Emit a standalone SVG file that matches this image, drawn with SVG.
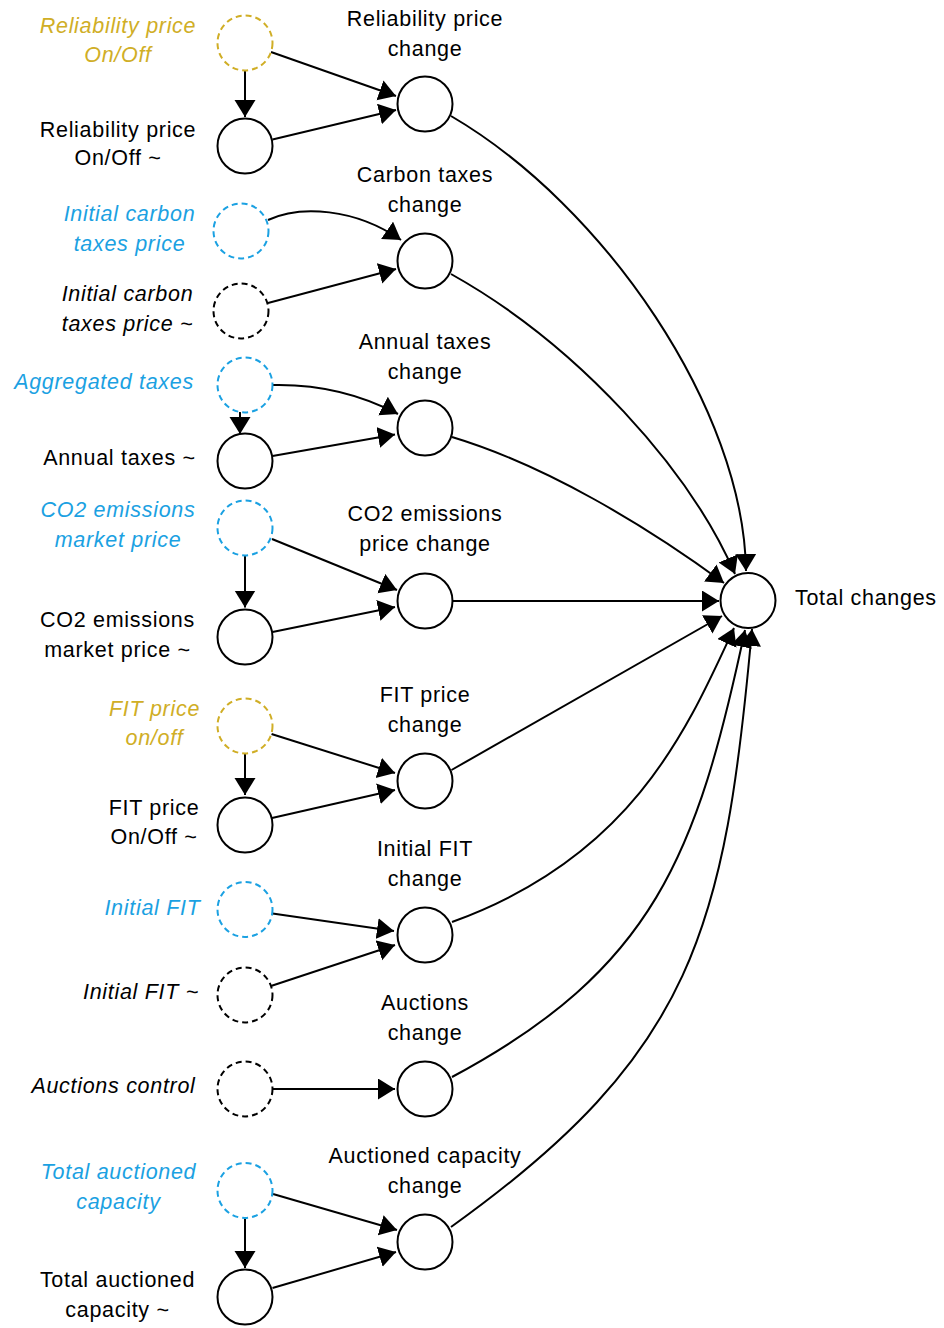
<svg xmlns="http://www.w3.org/2000/svg" width="944" height="1328" viewBox="0 0 944 1328">
  <style>
    .node { fill: #ffffff; stroke: #000000; stroke-width: 2; }
    .dash { stroke-dasharray: 6 4; }
    .gold { stroke: #D0AE26; }
    .blue { stroke: #1BA1E2; }
    text { font-family: "Liberation Sans", Arial, sans-serif; font-size: 21.5px; letter-spacing: 0.7px; fill: #000000; }
    .lbl { text-anchor: middle; }
    .it { font-style: italic; }
    .tgold { fill: #D0AE26; }
    .tblue { fill: #1BA1E2; }
    .edge { fill: none; stroke: #000000; stroke-width: 2; marker-end: url(#arrow); }
  </style>
  <defs>
    <marker id="arrow" markerUnits="userSpaceOnUse" markerWidth="18" markerHeight="22" refX="17" refY="10.5" orient="auto">
      <path d="M0,0 L17,10.5 L0,21 Z" fill="#000000"/>
    </marker>
  </defs>
  <rect width="944" height="1328" fill="#ffffff"/>

  <!-- connectors -->
  <g id="connectors">
    <path class="edge" d="M245,70.5 V117"/>
    <path class="edge" d="M271,52 L396,96"/>
    <path class="edge" d="M272.5,139.5 L396,110"/>
    <path class="edge" d="M451,116 C605,206 744,410 746,571"/>
    <path class="edge" d="M268,220 C300,205 355,208 401,240"/>
    <path class="edge" d="M268,303 L396,269"/>
    <path class="edge" d="M451,274 C578,345 690,470 735,574"/>
    <path class="edge" d="M240,412 V434"/>
    <path class="edge" d="M273,385 C320,384 360,394 398,414"/>
    <path class="edge" d="M272.5,456 L395,434.5"/>
    <path class="edge" d="M452,437 C545,465 645,525 724,583"/>
    <path class="edge" d="M245,555.5 V607.5"/>
    <path class="edge" d="M272,539 L397,590"/>
    <path class="edge" d="M272.5,632 L395,607"/>
    <path class="edge" d="M452.5,601 H719"/>
    <path class="edge" d="M245,753.5 V795"/>
    <path class="edge" d="M271.5,734 L395,773"/>
    <path class="edge" d="M272,818 L395,790"/>
    <path class="edge" d="M451.5,770 L722,616"/>
    <path class="edge" d="M272.5,913.5 L394,931"/>
    <path class="edge" d="M271,986 L395,945"/>
    <path class="edge" d="M452,922 C632,857 687,730 734,628"/>
    <path class="edge" d="M272.5,1089 H395"/>
    <path class="edge" d="M452,1077 C654,969 697,855 745,630"/>
    <path class="edge" d="M245,1218.5 V1268"/>
    <path class="edge" d="M273,1194 L397,1230"/>
    <path class="edge" d="M272.5,1288 L396,1252"/>
    <path class="edge" d="M451,1227 C694,1053 725,930 752,629"/>
  </g>

  <!-- reliability price -->
  <g id="reliability-onoff">
    <circle class="node dash gold" cx="245" cy="43" r="27.5"/>
    <text class="lbl it tgold" x="118" y="33">Reliability price</text>
    <text class="lbl it tgold" x="118" y="62">On/Off</text>
  </g>
  <g id="reliability-onoff-tilde">
    <circle class="node" cx="245" cy="146" r="27.5"/>
    <text class="lbl" x="118" y="137">Reliability price</text>
    <text class="lbl" x="118" y="165">On/Off ~</text>
  </g>
  <g id="reliability-change">
    <circle class="node" cx="425" cy="104" r="27.5"/>
    <text class="lbl" x="425" y="26">Reliability price</text>
    <text class="lbl" x="425" y="56">change</text>
  </g>

  <!-- carbon taxes -->
  <g id="initial-carbon">
    <circle class="node dash blue" cx="241" cy="231" r="27.5"/>
    <text class="lbl it tblue" x="129.5" y="221">Initial carbon</text>
    <text class="lbl it tblue" x="129.5" y="251">taxes price</text>
  </g>
  <g id="initial-carbon-tilde">
    <circle class="node dash" cx="241" cy="311" r="27.5"/>
    <text class="lbl it" x="127.5" y="301">Initial carbon</text>
    <text class="lbl it" x="127.5" y="331">taxes price ~</text>
  </g>
  <g id="carbon-change">
    <circle class="node" cx="425" cy="261" r="27.5"/>
    <text class="lbl" x="425" y="182">Carbon taxes</text>
    <text class="lbl" x="425" y="212">change</text>
  </g>

  <!-- annual taxes -->
  <g id="aggregated-taxes">
    <circle class="node dash blue" cx="245" cy="385" r="27.5"/>
    <text class="lbl it tblue" x="104" y="389">Aggregated taxes</text>
  </g>
  <g id="annual-taxes-tilde">
    <circle class="node" cx="245" cy="461" r="27.5"/>
    <text class="lbl" x="119.5" y="465">Annual taxes ~</text>
  </g>
  <g id="annual-change">
    <circle class="node" cx="425" cy="428" r="27.5"/>
    <text class="lbl" x="425" y="349">Annual taxes</text>
    <text class="lbl" x="425" y="379">change</text>
  </g>

  <!-- CO2 emissions -->
  <g id="co2-market">
    <circle class="node dash blue" cx="245" cy="528" r="27.5"/>
    <text class="lbl it tblue" x="118" y="517">CO2 emissions</text>
    <text class="lbl it tblue" x="118" y="547">market price</text>
  </g>
  <g id="co2-market-tilde">
    <circle class="node" cx="245" cy="637" r="27.5"/>
    <text class="lbl" x="117.5" y="627">CO2 emissions</text>
    <text class="lbl" x="117.5" y="657">market price ~</text>
  </g>
  <g id="co2-change">
    <circle class="node" cx="425" cy="601" r="27.5"/>
    <text class="lbl" x="425" y="521">CO2 emissions</text>
    <text class="lbl" x="425" y="551">price change</text>
  </g>

  <!-- total -->
  <g id="total-changes">
    <circle class="node" cx="748" cy="600.5" r="27.5"/>
    <text x="795" y="605">Total changes</text>
  </g>

  <!-- FIT price -->
  <g id="fit-onoff">
    <circle class="node dash gold" cx="245" cy="726" r="27.5"/>
    <text class="lbl it tgold" x="154.5" y="716">FIT price</text>
    <text class="lbl it tgold" x="154.5" y="745">on/off</text>
  </g>
  <g id="fit-onoff-tilde">
    <circle class="node" cx="245" cy="825" r="27.5"/>
    <text class="lbl" x="154" y="815">FIT price</text>
    <text class="lbl" x="154" y="844">On/Off ~</text>
  </g>
  <g id="fit-change">
    <circle class="node" cx="425" cy="781" r="27.5"/>
    <text class="lbl" x="425" y="702">FIT price</text>
    <text class="lbl" x="425" y="732">change</text>
  </g>

  <!-- initial FIT -->
  <g id="initial-fit">
    <circle class="node dash blue" cx="245" cy="909.5" r="27.5"/>
    <text class="lbl it tblue" x="152.5" y="915">Initial FIT</text>
  </g>
  <g id="initial-fit-tilde">
    <circle class="node dash" cx="245" cy="995" r="27.5"/>
    <text class="lbl it" x="141" y="999">Initial FIT ~</text>
  </g>
  <g id="initial-fit-change">
    <circle class="node" cx="425" cy="935" r="27.5"/>
    <text class="lbl" x="425" y="856">Initial FIT</text>
    <text class="lbl" x="425" y="886">change</text>
  </g>

  <!-- auctions -->
  <g id="auctions-control">
    <circle class="node dash" cx="245" cy="1089" r="27.5"/>
    <text class="lbl it" x="113.5" y="1093">Auctions control</text>
  </g>
  <g id="auctions-change">
    <circle class="node" cx="425" cy="1089" r="27.5"/>
    <text class="lbl" x="425" y="1010">Auctions</text>
    <text class="lbl" x="425" y="1040">change</text>
  </g>

  <!-- auctioned capacity -->
  <g id="total-auctioned">
    <circle class="node dash blue" cx="245" cy="1190.5" r="27.5"/>
    <text class="lbl it tblue" x="118.5" y="1179">Total auctioned</text>
    <text class="lbl it tblue" x="118.5" y="1209">capacity</text>
  </g>
  <g id="total-auctioned-tilde">
    <circle class="node" cx="245" cy="1297" r="27.5"/>
    <text class="lbl" x="117.5" y="1287">Total auctioned</text>
    <text class="lbl" x="117.5" y="1317">capacity ~</text>
  </g>
  <g id="auctioned-change">
    <circle class="node" cx="425" cy="1242" r="27.5"/>
    <text class="lbl" x="425" y="1163">Auctioned capacity</text>
    <text class="lbl" x="425" y="1193">change</text>
  </g>
</svg>
